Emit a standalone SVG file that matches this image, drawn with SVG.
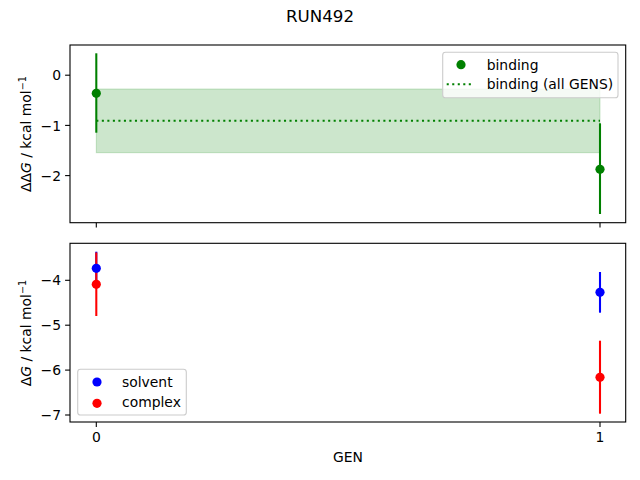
<svg xmlns="http://www.w3.org/2000/svg" width="640" height="480" viewBox="0 0 640 480">
<style>
text{font-family:"DejaVu Sans",sans-serif;font-size:13.9px;fill:#000}
.spine{fill:none;stroke:#000;stroke-width:1.1}
.tick{stroke:#000;stroke-width:1.1}
.yt{text-anchor:end}
.xt{text-anchor:middle}
.leg{fill:#fff;fill-opacity:0.8;stroke:#cccccc;stroke-width:1.1}
</style>
<rect width="640" height="480" fill="#fff"/>
<text x="320" y="22" text-anchor="middle" style="font-size:16.7px">RUN492</text>

<g id="top-axes">
<rect x="96.3" y="89" width="503.7" height="63.7" fill="#008000" fill-opacity="0.2" stroke="#008000" stroke-opacity="0.2" stroke-width="1"/>
<line x1="96.3" y1="120.7" x2="600" y2="120.7" stroke="#008000" stroke-width="2.08" stroke-dasharray="2.08 3.44"/>
<g stroke="#008000" stroke-width="2.08">
<line x1="96.3" y1="53.3" x2="96.3" y2="132.7"/>
<line x1="600" y1="123.3" x2="600" y2="214"/>
</g>
<g fill="#008000">
<circle cx="96.3" cy="93.3" r="4.6"/>
<circle cx="600" cy="169.3" r="4.6"/>
</g>
<rect class="spine" x="70" y="45" width="555.7" height="177.7"/>
<g class="tick">
<line x1="65.1" y1="75.2" x2="70" y2="75.2"/>
<line x1="65.1" y1="125.4" x2="70" y2="125.4"/>
<line x1="65.1" y1="175.6" x2="70" y2="175.6"/>
<line x1="96.3" y1="222.7" x2="96.3" y2="227.6"/>
<line x1="600" y1="222.7" x2="600" y2="227.6"/>
</g>
<text class="yt" x="61" y="80.3">0</text>
<text class="yt" x="61" y="130.5">−1</text>
<text class="yt" x="61" y="180.7">−2</text>
<text transform="translate(31,134) rotate(-90)" text-anchor="middle">ΔΔ<tspan font-style="italic">G</tspan> / kcal mol<tspan dy="-5" style="font-size:9.7px">−1</tspan></text>
<g id="legend-top">
<rect class="leg" x="442.7" y="52.3" width="175.3" height="45.4" rx="2.8"/>
<circle cx="461" cy="64.7" r="4.6" fill="#008000"/>
<line x1="446.7" y1="84.3" x2="473" y2="84.3" stroke="#008000" stroke-width="2.08" stroke-dasharray="2.08 3.44"/>
<text x="486.7" y="69.5">binding</text>
<text x="486.7" y="89.2">binding (all GENS)</text>
</g>
</g>

<g id="bottom-axes">
<g stroke-width="2.08">
<line x1="96.3" y1="251.7" x2="96.3" y2="285" stroke="#0000ff"/>
<line x1="600" y1="272" x2="600" y2="312.7" stroke="#0000ff"/>
<line x1="96.3" y1="252.5" x2="96.3" y2="316" stroke="#ff0000"/>
<line x1="600" y1="340.7" x2="600" y2="413.7" stroke="#ff0000"/>
</g>
<circle cx="96.3" cy="268.3" r="4.6" fill="#0000ff"/>
<circle cx="600" cy="292.3" r="4.6" fill="#0000ff"/>
<circle cx="96.3" cy="284.3" r="4.6" fill="#ff0000"/>
<circle cx="600" cy="377.3" r="4.6" fill="#ff0000"/>
<rect class="spine" x="70" y="243.3" width="555.7" height="178.7"/>
<g class="tick">
<line x1="65.1" y1="280.3" x2="70" y2="280.3"/>
<line x1="65.1" y1="325.2" x2="70" y2="325.2"/>
<line x1="65.1" y1="370.1" x2="70" y2="370.1"/>
<line x1="65.1" y1="415" x2="70" y2="415"/>
<line x1="96.3" y1="422" x2="96.3" y2="426.9"/>
<line x1="600" y1="422" x2="600" y2="426.9"/>
</g>
<text class="yt" x="61" y="285.4">−4</text>
<text class="yt" x="61" y="330.3">−5</text>
<text class="yt" x="61" y="375.2">−6</text>
<text class="yt" x="61" y="420.1">−7</text>
<text class="xt" x="96.3" y="441.5">0</text>
<text class="xt" x="600" y="441.5">1</text>
<text class="xt" x="348" y="462">GEN</text>
<text transform="translate(31,333) rotate(-90)" text-anchor="middle">Δ<tspan font-style="italic">G</tspan> / kcal mol<tspan dy="-5" style="font-size:9.7px">−1</tspan></text>
<g id="legend-bottom">
<rect class="leg" x="77.7" y="369.3" width="108.6" height="45.7" rx="2.8"/>
<circle cx="97" cy="382" r="4.6" fill="#0000ff"/>
<circle cx="97" cy="403.3" r="4.6" fill="#ff0000"/>
<text x="122" y="386.5">solvent</text>
<text x="122" y="407">complex</text>
</g>
</g>
</svg>
